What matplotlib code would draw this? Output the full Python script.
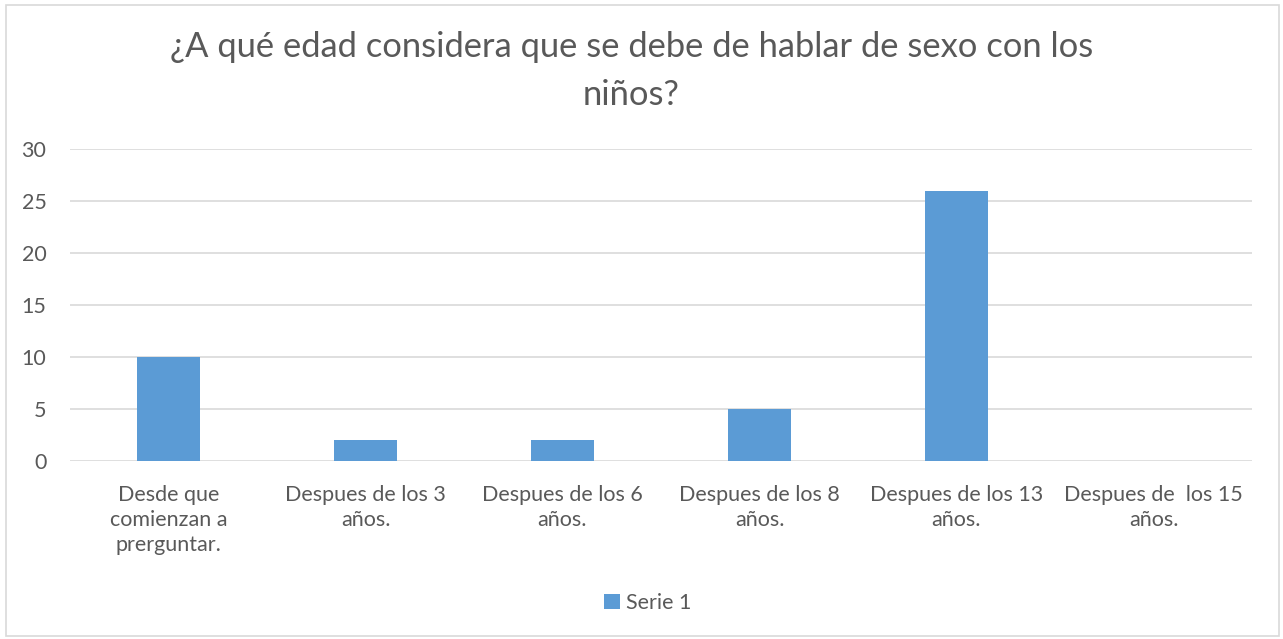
import matplotlib
matplotlib.use("Agg")
import matplotlib.pyplot as plt
from matplotlib.patches import Rectangle

categories = ["Desde que\ncomienzan a\nprerguntar.", "Despues de los 3\naños.",
              "Despues de los 6\naños.", "Despues de los 8\naños.",
              "Despues de los 13\naños.", "Despues de  los 15\naños."]
values = [10, 2, 2, 5, 26, 0]
yticks = [0, 5, 10, 15, 20, 25, 30]

plt.rcParams["font.family"] = ["Lato", "DejaVu Sans"]
TXT = "#595959"
BAR = "#5B9BD5"
FS = 15.5

fig = plt.figure(figsize=(12.83, 6.39), dpi=100)
ax = fig.add_axes([70 / 1283, 1 - 461 / 639, (1252 - 70) / 1283, (461 - 149) / 639])

x = range(len(categories))
ax.bar(x, values, width=0.315, color=BAR, zorder=3, label="Serie 1")
ax.set_xlim(-0.5, len(categories) - 0.5)
ax.set_ylim(0, 30)
ax.set_yticks(yticks)
ax.set_xticks(list(x))
ax.set_xticklabels(categories, fontsize=FS, color=TXT, linespacing=1.33)
ax.tick_params(axis="y", labelsize=FS, labelcolor=TXT, length=0, pad=17)
ax.tick_params(axis="x", length=0, pad=17)
ax.grid(axis="y", color="#D9D9D9", linewidth=1.2, zorder=0)
for s in ax.spines.values():
    s.set_visible(False)

fig.text(0.492, 1 - 47 / 639, "¿A qué edad considera que se debe de hablar de sexo con los",
         ha="center", va="center", fontsize=24.8, color=TXT)
fig.text(0.492, 1 - 95 / 639, "niños?", ha="center", va="center", fontsize=24.8, color=TXT)

fig.legend(loc="center", bbox_to_anchor=(0.505, 1 - 603 / 639), frameon=False,
           fontsize=FS, labelcolor=TXT, handlelength=0.7, handleheight=0.7,
           handletextpad=0.3)

fig.patches.append(Rectangle((6 / 1283, 3 / 639), 1273 / 1283, 631 / 639,
                             transform=fig.transFigure, fill=False,
                             edgecolor="#D9D9D9", linewidth=1.2))

fig.savefig("out.png", dpi=100)
